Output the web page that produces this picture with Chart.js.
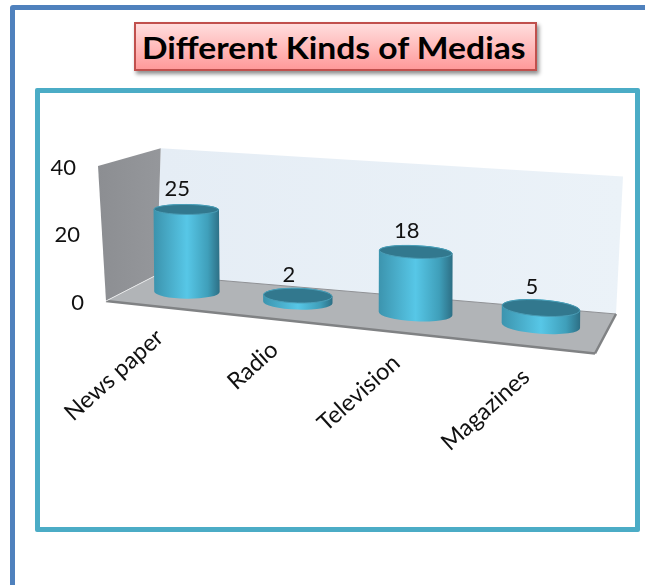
<!DOCTYPE html>
<html>
<head>
<meta charset="utf-8">
<title>Different Kinds of Medias</title>
<script src="https://cdn.jsdelivr.net/npm/chart.js@4"></script>
<style>
  html, body { margin: 0; padding: 0; width: 645px; height: 585px; overflow: hidden; background: #fff; }
  #outer { position: absolute; left: 10px; top: 5px; width: 800px; height: 800px; border: 5px solid #4f81bd; border-radius: 3px; }
  #inner { position: absolute; left: 35px; top: 88px; width: 595px; height: 434px; border: 5px solid #4bacc6; border-radius: 2px; }
  #title {
    position: absolute; left: 134px; top: 22px; width: 403px; height: 49px; box-sizing: border-box;
    border: 2px solid #c0504d; background: linear-gradient(#ffdddd, #ff9a9a);
    box-shadow: 2px 3px 4px rgba(0,0,0,.45);
    font: bold 31px Lato, sans-serif; color: #000; text-align: center; line-height: 47px; white-space: nowrap;
  }
  #title span { display: inline-block; transform: translateX(-2px) scaleX(1.085); }
  canvas { position: absolute; left: 0; top: 0; }
</style>
</head>
<body>
<div id="outer"></div>
<div id="inner"></div>
<div id="title"><span>Different Kinds of Medias</span></div>
<canvas id="mediaChart" width="645" height="585"></canvas>
<script>
// Media types and their counts
const categories = ['News paper', 'Radio', 'Television', 'Magazines'];
const values = [25, 2, 18, 5];
const axisMax = 40;
const axisStep = 20;

// Corners of the 3D box: floor corners and the full-height vector at each of them
const floor = { fl: [106, 301], fr: [595, 353.5], bl: [156.7, 275], br: [616, 314] };
const rise = { fl: [-8, -135], fr: [-5, -146], bl: [4, -126.7], br: [7, -137.5] };
const perspective = 1.13;
const barDepth = 0.55;

function mix(a, b, t) { return [a[0] + (b[0] - a[0]) * t, a[1] + (b[1] - a[1]) * t]; }

function warp(u) { return u / (u + perspective * (1 - u)); }

// u along the categories, w up the value axis, d from front to back (all 0..1)
function project(u, w, d) {
    const t = warp(u);
    const base = mix(mix(floor.fl, floor.fr, t), mix(floor.bl, floor.br, t), d);
    const up = mix(mix(rise.fl, rise.fr, t), mix(rise.bl, rise.br, t), d);
    return [base[0] + up[0] * w, base[1] + up[1] * w];
}

function poly(ctx, pts, fill) {
    ctx.beginPath();
    pts.forEach((p, i) => i ? ctx.lineTo(p[0], p[1]) : ctx.moveTo(p[0], p[1]));
    ctx.closePath();
    ctx.fillStyle = fill;
    ctx.fill();
}

function line(ctx, a, b, color, width) {
    ctx.beginPath();
    ctx.moveTo(a[0], a[1]);
    ctx.lineTo(b[0], b[1]);
    ctx.strokeStyle = color;
    ctx.lineWidth = width;
    ctx.stroke();
}

function drawWalls(ctx) {
    const backTopL = project(0, 1, 1), backTopR = project(1, 1, 1);
    const backBotL = project(0, 0, 1), backBotR = project(1, 0, 1);
    const frontTopL = project(0, 1, 0), frontBotL = project(0, 0, 0), frontBotR = project(1, 0, 0);

    const back = ctx.createLinearGradient(backTopL[0], 0, backTopR[0], 0);
    back.addColorStop(0, '#e5edf5');
    back.addColorStop(1, '#ebf2f8');
    poly(ctx, [backTopL, backTopR, backBotR, backBotL], back);

    const side = ctx.createLinearGradient(frontTopL[0], 0, backTopL[0], 0);
    side.addColorStop(0, '#8c8e92');
    side.addColorStop(1, '#95979b');
    poly(ctx, [frontTopL, backTopL, backBotL, frontBotL], side);

    poly(ctx, [frontBotL, frontBotR, backBotR, backBotL], '#b1b4b7');

    line(ctx, backBotL, backBotR, '#8f9195', 1);
    line(ctx, frontBotL, frontBotR, '#808284', 2.5);
    line(ctx, frontBotR, backBotR, '#808284', 2.5);
    line(ctx, frontBotL, backBotL, '#e8e9ea', 1);
}

function drawCylinder(ctx, chart, el, value) {
    const area = chart.chartArea;
    const u = (el.x - area.left) / area.width;
    const w = (el.base - el.y) / area.height;
    const half = el.width / 2 / area.width;

    const a = project(u - half, 0, barDepth), b = project(u + half, 0, barDepth);
    const rx = Math.hypot(b[0] - a[0], b[1] - a[1]) / 2;
    // caps flatten as they rise towards eye level
    const ryBot = rx * 0.21;
    const ryTop = rx * (0.23 - 0.1 * w);
    const rot = warp(u) * 0.08;
    const bot = project(u, 0, barDepth);
    const top = project(u, w, barDepth);

    const body = ctx.createLinearGradient(bot[0] - rx, 0, bot[0] + rx, 0);
    body.addColorStop(0, '#3c94ae');
    body.addColorStop(0.5, '#57c7e7');
    body.addColorStop(0.82, '#3f9fba');
    body.addColorStop(1, '#2d6f85');

    ctx.beginPath();
    ctx.ellipse(bot[0], bot[1], rx, ryBot, rot, Math.PI, 0, true);
    ctx.ellipse(top[0], top[1], rx, ryTop, rot, 0, Math.PI, true);
    ctx.closePath();
    ctx.fillStyle = body;
    ctx.fill();

    ctx.beginPath();
    ctx.ellipse(top[0], top[1], rx - 0.5, ryTop - 0.5, rot, 0, Math.PI * 2);
    ctx.fillStyle = '#32788e';
    ctx.fill();
    ctx.strokeStyle = '#4a9db6';
    ctx.lineWidth = 1;
    ctx.stroke();

    // value label sits a fixed distance above the cap, nudged left
    ctx.fillStyle = '#111';
    ctx.font = '22px Lato, sans-serif';
    ctx.textAlign = 'center';
    ctx.textBaseline = 'middle';
    ctx.fillText(String(value), top[0] - 9, top[1] - 21);
}

function drawAxisLabels(ctx, chart) {
    const xs = chart.scales.x, ys = chart.scales.y, area = chart.chartArea;
    ctx.fillStyle = '#111';
    ctx.textBaseline = 'middle';
    ctx.textAlign = 'right';

    ctx.font = '22px Lato, sans-serif';
    ys.ticks.forEach(tick => {
        const w = (area.bottom - ys.getPixelForValue(tick.value)) / area.height;
        const p = project(0, w, 0);
        ctx.fillText(String(tick.value), p[0] - 22, p[1] + 1.5);
    });

    ctx.font = '23.5px Lato, sans-serif';
    xs.ticks.forEach((tick, i) => {
        const u = (xs.getPixelForTick(i) - area.left) / area.width;
        const p = project(u, 0, 0);
        ctx.save();
        ctx.translate(p[0] - 1, p[1] + 27);
        ctx.rotate(-42 * Math.PI / 180);
        ctx.fillText(xs.getLabelForValue(tick.value), 0, 0);
        ctx.restore();
    });
}

// Replaces the flat bars with cylinders standing in the projected box
const box3d = {
    id: 'box3d',
    beforeDatasetDraw(chart, args) {
        const ctx = chart.ctx;
        drawWalls(ctx);
        args.meta.data.forEach((el, i) => drawCylinder(ctx, chart, el, chart.data.datasets[args.index].data[i]));
        drawAxisLabels(ctx, chart);
        return false;
    }
};

new Chart(document.getElementById('mediaChart'), {
    type: 'bar',
    data: {
        labels: categories,
        datasets: [{ data: values, backgroundColor: '#4bacc6', barPercentage: 0.605, categoryPercentage: 1 }]
    },
    options: {
        responsive: false,
        animation: false,
        layout: { padding: { left: 106, top: 166, right: 50, bottom: 284 } },
        plugins: { legend: { display: false }, tooltip: { enabled: false } },
        scales: {
            x: { grid: { display: false }, border: { display: false }, ticks: { display: false } },
            y: { min: 0, max: axisMax, grid: { display: false }, border: { display: false }, ticks: { display: false, stepSize: axisStep } }
        }
    },
    plugins: [box3d]
});
</script>
</body>
</html>
